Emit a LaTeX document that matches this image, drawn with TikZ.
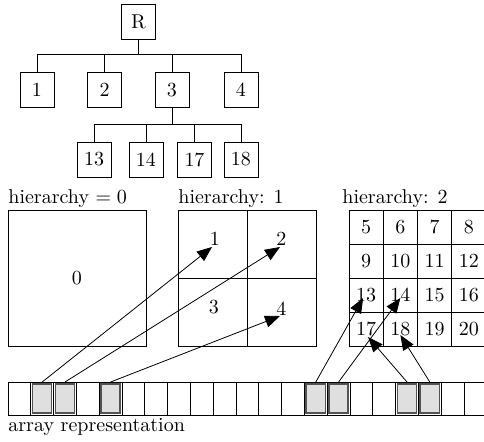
\documentclass[tikz,border=0pt]{standalone}
\usetikzlibrary{arrows.meta,calc}
\begin{document}
\begin{tikzpicture}[x=0.5pt,y=-0.5pt,
  tbox/.style={draw,minimum width=17pt,minimum height=17.5pt,inner sep=0pt,outer sep=0pt},
  acell/.style={draw,minimum width=11.4pt,minimum height=16.5pt,inner sep=0pt,outer sep=0pt},
  hcell/.style={draw=gray!65!black,fill=gray!25,line width=0.7pt,minimum width=9.6pt,minimum height=14.6pt,inner sep=0pt,outer sep=0pt},
  gcell/.style={draw,minimum width=17.125pt,minimum height=17pt,inner sep=0pt,outer sep=0pt},
  qcell/.style={draw,minimum width=34.5pt,minimum height=34pt,inner sep=0pt,outer sep=0pt},
  bigcell/.style={draw,minimum width=69pt,minimum height=68pt,inner sep=0pt,outer sep=0pt},
  arr/.style={-{Triangle[length=7.5pt,width=6pt]}},
  captxt/.style={anchor=base west,inner sep=0pt}]
\useasboundingbox (0,0) rectangle (484,441);
\clip (0,0) rectangle (484,441);
% tree
\node[tbox] (R) at (138.5,21.5) {R};
\node[tbox] (t1) at (37,90) {1};
\node[tbox] (t2) at (104.5,90) {2};
\node[tbox] (t3) at (172,90) {3};
\node[tbox] (t4) at (241,90) {4};
\node[tbox] (t13) at (94,159.5) {13};
\node[tbox] (t14) at (146,159.5) {14};
\node[tbox] (t17) at (194.5,159.5) {17};
\node[tbox] (t18) at (241,159.5) {18};
\foreach \c in {t1,t2,t3,t4} \draw (R.south) -- ++(0,15) -| (\c.north);
\foreach \c in {t13,t14,t17,t18} \draw (t3.south) -- ++(0,17) -| (\c.north);
% captions
\node[captxt] (cap0) at (8,203) {hierarchy $=0$};
\node[captxt] (cap1) at (178,203) {hierarchy: 1};
\node[captxt] (cap2) at (342,203) {hierarchy: 2};
\node[captxt] (cap3) at (8,431) {array representation};
% hierarchy 0
\node[bigcell] (g0) at (77,278) {0};
% hierarchy 1
\node[qcell] (h1c1) at (212.5,244) {};
\node[qcell] (h1c2) at (281.5,244) {};
\node[qcell] (h1c3) at (212.5,312) {};
\node[qcell] (h1c4) at (281.5,312) {};
\node[inner sep=0pt] (l1) at (215,239) {1};
\node[inner sep=0pt] (l2) at (281.5,239) {2};
\node[inner sep=0pt] (l3) at (214,307.5) {3};
\node[inner sep=0pt] (l4) at (281.5,309) {4};
% hierarchy 2
\foreach \n in {5,...,20}{
  \pgfmathtruncatemacro{\col}{mod(\n-1,4)}
  \pgfmathtruncatemacro{\row}{(\n-5)/4}
  \node[gcell] (h2c\n) at (349+34.25*\col+17.125, 210+34*\row+17) {\n};
}
% array
\foreach \k in {0,...,20}{
  \node[acell] (a\k) at (8+22.8*\k+11.4,398.5) {};
}
\foreach \k in {1,2,4,13,14,17,18}{
  \node[hcell] (hl\k) at (a\k) {};
}
% arrows
\draw[arr] (a1.north) -- ($(h1c1.center)+(-0.5,3)$);
\draw[arr] (a2.north) -- ($(h1c2.center)+(-1.5,3)$);
\draw[arr] (a4.north) -- ($(h1c4.center)+(-1.5,4)$);
\draw[arr] (a13.north) -- ($(h2c13.center)+(-3,3)$);
\draw[arr] (a14.north) -- ($(h2c14.center)+(0,3)$);
\draw[arr] (a17.north) -- ($(h2c17.center)+(2,8)$);
\draw[arr] (a18.north) -- ($(h2c18.center)+(0,6)$);
\end{tikzpicture}
\end{document}
